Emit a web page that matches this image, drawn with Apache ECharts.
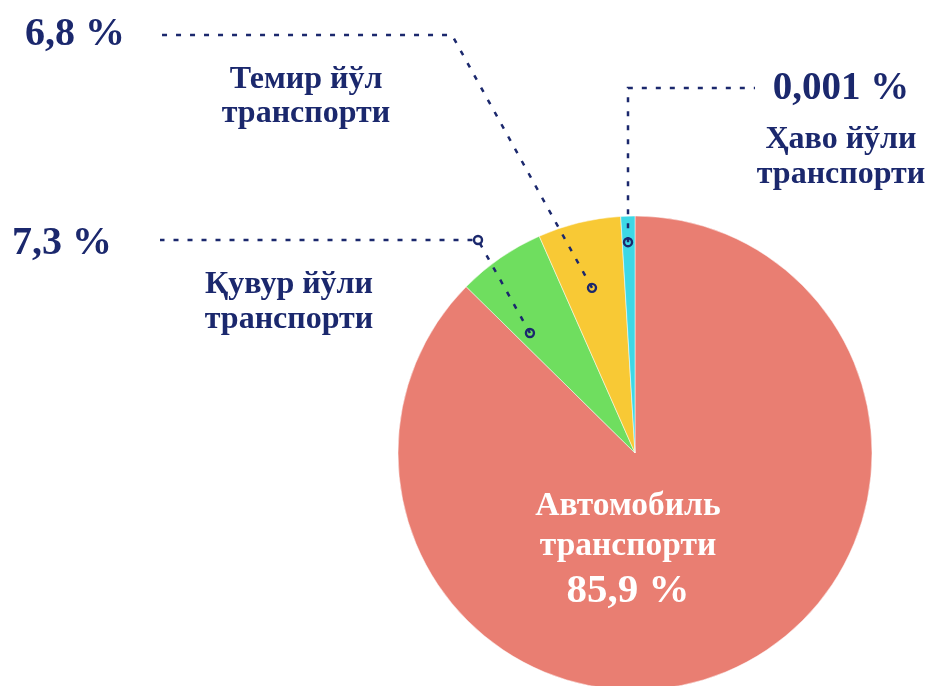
<!DOCTYPE html>
<html>
<head>
<meta charset="utf-8">
<script src="https://cdn.jsdelivr.net/npm/echarts@6/dist/echarts.min.js"></script>
<style>
  html, body { margin: 0; padding: 0; background: #fff; }
  #chart { width: 935px; height: 686px; }
</style>
</head>
<body>
<div id="chart"></div>
<script>
// transport types, clockwise from 12 o'clock
const categories = ["Автомобиль транспорти", "Қувур йўли транспорти", "Темир йўл транспорти", "Ҳаво йўли транспорти"];
const nameLines = [["Автомобиль", "транспорти"], ["Қувур йўли", "транспорти"], ["Темир йўл", "транспорти"], ["Ҳаво йўли", "транспорти"]];
const shareLabels = ["85,9 %", "7,3 %", "6,8 %", "0,001 %"];
// slice sizes as drawn in the picture (sweep angles)
const sliceValues = [87.4, 6.0, 5.66, 0.96];

const sliceColors = ["#e97e72", "#6fde5f", "#f8c935", "#3dd8e6"];
const navy = "#1b286d";
const font = "'Liberation Serif', 'Times New Roman', serif";

const center = [635, 453];
const radius = 237;

// label boxes and leader lines (layout only)
const labelBoxes = [
  { x: 628, y: 486, align: "center", pctH: 50, nmH: 40, pctSize: 41, nmSize: 33.5 },
  { x: 12, y: 220, align: "left", pctH: 47, nmH: 35, indent: 188, nmW: 178, pctSize: 40, nmSize: 32 },
  { x: 25, y: 7, align: "left", pctH: 56, nmH: 34, indent: 197, nmW: 168, pctSize: 40, nmSize: 32 },
  { x: 841, y: 55, align: "center", pctH: 67, nmH: 35, pctSize: 39, nmSize: 32 },
];
// anchor inside the slice: [degrees left of 12 o'clock, fraction of radius]
const anchors = [null, [41.2, 0.673], [14.6, 0.72], [1.9, 0.89]];
const elbows = [null, [478, 240], [452, 35], [628, 88]];
const lineEnds = [null, [160, 240], [160, 35], [755, 88]];

function anchorPoint(i) {
  const a = (anchors[i][0] * Math.PI) / 180;
  const r = radius * anchors[i][1];
  return [center[0] - r * Math.sin(a), center[1] - r * Math.cos(a)];
}

function buildLabel(i) {
  const b = labelBoxes[i];
  const inside = i === 0;
  const txtColor = inside ? "#fff" : navy;
  const rich = {
    pct: { fontFamily: font, fontWeight: "bold", fontSize: b.pctSize, color: txtColor, lineHeight: b.pctH },
    nm: { fontFamily: font, fontWeight: "bold", fontSize: b.nmSize, color: txtColor, lineHeight: b.nmH },
  };
  let text;
  if (inside) {
    text = "{nm|" + nameLines[i][0] + "}\n{nm|" + nameLines[i][1] + "}\n{pct|" + shareLabels[i] + "}";
  } else if (b.indent) {
    rich.sp = { width: b.indent, lineHeight: b.nmH };
    rich.nm.width = b.nmW;
    rich.nm.align = "center";
    text = "{pct|" + shareLabels[i] + "}\n{sp| }{nm|" + nameLines[i][0] + "}\n{sp| }{nm|" + nameLines[i][1] + "}";
  } else {
    text = "{pct|" + shareLabels[i] + "}\n{nm|" + nameLines[i][0] + "}\n{nm|" + nameLines[i][1] + "}";
  }
  return {
    show: true,
    position: inside ? "inside" : "outside",
    formatter: text,
    rich: rich,
  };
}

const pieData = categories.map(function (name, i) {
  return {
    name: name,
    value: sliceValues[i],
    itemStyle: { color: sliceColors[i] },
    label: buildLabel(i),
  };
});

// dotted leader lines drawn on top of the slices, with little rings at the ends
const leaders = [];
for (let i = 1; i < categories.length; i++) {
  const p = anchorPoint(i);
  leaders.push({
    type: "polyline",
    shape: { points: [p, elbows[i], lineEnds[i]] },
    style: { fill: null, stroke: navy, lineWidth: 2.5, lineDash: [5, 9] },
    z: 100,
  });
  leaders.push({ type: "circle", shape: { cx: p[0], cy: p[1], r: 4 }, style: { fill: "transparent", stroke: navy, lineWidth: 2.4 }, z: 101 });
}
leaders.push({ type: "circle", shape: { cx: elbows[1][0], cy: elbows[1][1], r: 4 }, style: { fill: "#fff", stroke: navy, lineWidth: 2.4 }, z: 101 });

const chart = echarts.init(document.getElementById("chart"));
chart.setOption({
  animation: false,
  backgroundColor: "#fff",
  graphic: leaders,
  series: [
    {
      type: "pie",
      center: center,
      radius: radius,
      startAngle: 90,
      clockwise: true,
      avoidLabelOverlap: false,
      itemStyle: { borderColor: "#fff", borderWidth: 0.5 },
      emphasis: { disabled: true },
      labelLine: { show: false },
      labelLayout: function (params) {
        const b = labelBoxes[params.dataIndex];
        return { x: b.x, y: b.y, align: b.align, verticalAlign: "top" };
      },
      data: pieData,
    },
  ],
});
</script>
</body>
</html>
